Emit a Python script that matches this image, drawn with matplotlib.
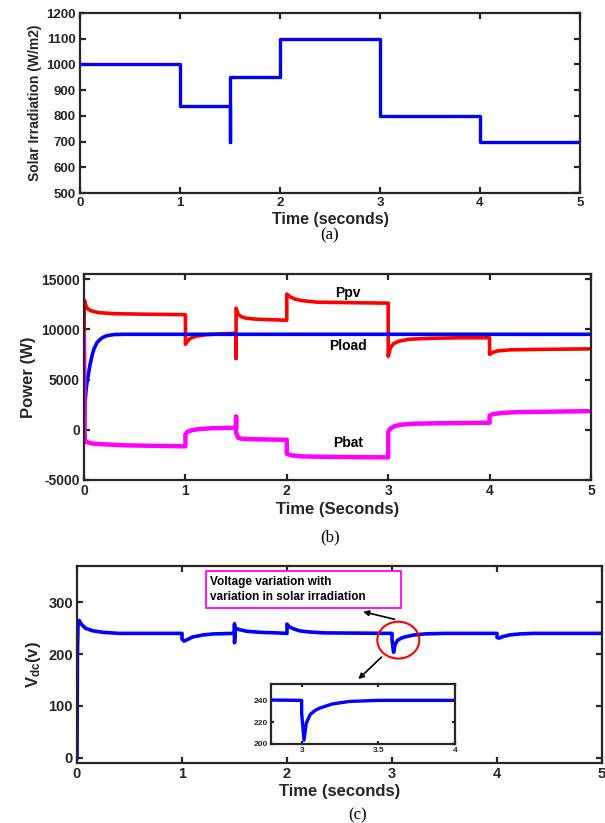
import matplotlib
matplotlib.use("Agg")
import matplotlib.pyplot as plt
from matplotlib.patches import Rectangle, Ellipse

plt.rcParams['font.family'] = ['Liberation Sans', 'DejaVu Sans']
plt.rcParams['font.weight'] = 'bold'
plt.rcParams['axes.unicode_minus'] = False
plt.rcParams['mathtext.fontset'] = 'custom'
plt.rcParams['mathtext.bf'] = 'Liberation Sans:bold'
plt.rcParams['mathtext.rm'] = 'Liberation Sans:bold'

BLUE = "#0000ff"
RED = "#ff0000"
MAGENTA = "#ff00ff"
SPINE = "#262626"

# ---------------------------------------------------------------------------
# (a) solar irradiation profile
# ---------------------------------------------------------------------------
irr_t = [0, 1, 1, 1.5, 1.5, 1.5, 2, 2, 3, 3, 4, 4, 5]
irr_g = [1000, 1000, 840, 840, 700, 950, 950, 1100, 1100, 800, 800, 700, 700]

# ---------------------------------------------------------------------------
# (b) power flows
# ---------------------------------------------------------------------------
ppv_t = [0, 0.004, 0.01, 0.02, 0.04, 0.08, 0.15, 0.3, 0.6, 1.0,
         1.0, 1.02, 1.05, 1.1, 1.2, 1.35, 1.5,
         1.5, 1.5, 1.52, 1.55, 1.6, 1.7, 1.85, 2.0,
         2.0, 2.03, 2.08, 2.15, 2.3, 2.6, 3.0,
         3.0, 3.02, 3.05, 3.1, 3.2, 3.4, 3.7, 4.0,
         4.0, 4.03, 4.08, 4.2, 4.5, 5.0]
ppv_p = [9000, 12900, 12700, 12300, 12000, 11800, 11650, 11550, 11500, 11450,
         8500, 8800, 9100, 9300, 9450, 9550, 9600,
         7100, 12100, 11500, 11250, 11100, 11000, 10950, 10900,
         13500, 13250, 13000, 12850, 12700, 12650, 12600,
         7300, 8100, 8550, 8800, 9000, 9100, 9150, 9150,
         7500, 7700, 7850, 7950, 8000, 8050]

pload_t = [0, 0.005, 0.01, 0.02, 0.03, 0.04, 0.06, 0.08, 0.1, 0.13, 0.17,
           0.22, 0.3, 0.4, 5.0]
pload_p = [0, 1500, 2600, 3900, 4700, 5300, 6500, 7400, 8100, 8700, 9100,
           9350, 9480, 9500, 9500]

pbat_t = [0, 0.008, 0.02, 0.05, 0.1, 0.2, 0.4, 0.7, 1.0,
          1.0, 1.02, 1.06, 1.12, 1.25, 1.5,
          1.5, 1.5, 1.52, 1.56, 1.7, 2.0,
          2.0, 2.05, 2.15, 2.4, 3.0,
          3.0, 3.02, 3.06, 3.12, 3.25, 3.5, 4.0,
          4.0, 4.03, 4.1, 4.25, 4.6, 5.0]
pbat_p = [9200, -1000, -1200, -1300, -1400, -1450, -1550, -1600, -1650,
          -500, -200, -50, 50, 150, 200,
          1300, -300, -800, -900, -950, -1000,
          -2400, -2550, -2650, -2700, -2750,
          -200, 100, 350, 500, 600, 650, 700,
          1400, 1550, 1650, 1750, 1800, 1850]

# ---------------------------------------------------------------------------
# (c) dc-link voltage
# ---------------------------------------------------------------------------
vdc_t = [0, 0.004, 0.01, 0.02, 0.04, 0.08, 0.15, 0.25, 0.4, 1.0,
         1.0, 1.02, 1.05, 1.1, 1.2, 1.3, 1.5,
         1.5, 1.5, 1.51, 1.55, 1.62, 1.75, 1.9, 2.0,
         2.0, 2.02, 2.06, 2.12, 2.2, 2.35, 3.0,
         3.0, 3.015, 3.03, 3.055, 3.09, 3.12, 3.2, 3.31, 3.5, 4.0,
         4.0, 4.02, 4.06, 4.12, 4.22, 4.35, 5.0]
vdc_v = [0, 200, 258, 265, 258, 250, 245, 242, 240, 240,
         229, 225, 228, 233, 237, 239, 240,
         258, 222, 250, 247, 244, 242, 241, 240,
         258, 253, 249, 245, 243, 241, 240,
         228, 203.5, 219, 227, 231, 233, 236.7, 239, 240, 240,
         232, 231, 234, 237, 239, 240, 240]

irr_ticks = [500, 600, 700, 800, 900, 1000, 1100, 1200]
pow_ticks = [-5000, 0, 5000, 10000, 15000]
vdc_ticks = [0, 100, 200, 300]
time_ticks = [0, 1, 2, 3, 4, 5]


def style_axes(ax, size=10):
    for s in ax.spines.values():
        s.set_color(SPINE)
        s.set_linewidth(1.6)
    ax.tick_params(direction='in', length=4, width=1.6, color=SPINE,
                   top=True, right=True, labelsize=size,
                   labelcolor=SPINE, pad=3)
    for lab in ax.get_xticklabels() + ax.get_yticklabels():
        lab.set_fontweight('bold')


fig = plt.figure(figsize=(6.05, 8.23), dpi=100)
W, H = 605.0, 823.0


def px_axes(left, top, right, bottom):
    return fig.add_axes([left / W, 1 - bottom / H, (right - left) / W, (bottom - top) / H])


# (a)
ax1 = px_axes(80, 13, 580, 193)
ax1.plot(irr_t, irr_g, color=BLUE, lw=2.4)
ax1.set_xlim(0, 5)
ax1.set_ylim(500, 1200)
ax1.set_xticks(time_ticks)
ax1.set_yticks(irr_ticks)
style_axes(ax1, 9.5)
ax1.set_xlabel('Time (seconds)', fontsize=11.5, fontweight='bold', color=SPINE, labelpad=2)
ax1.set_ylabel('Solar Irradiation (W/m2)', fontsize=10, fontweight='bold', color=SPINE, labelpad=3)
fig.text(330 / W, 1 - 235 / H, '(a)', ha='center', va='center',
         fontsize=12, family='Liberation Serif', fontweight='normal')

# (b)
ax2 = px_axes(84, 274, 591, 480)
ax2.plot(ppv_t, ppv_p, color=RED, lw=2.6)
ax2.plot(pload_t, pload_p, color=BLUE, lw=2.6)
ax2.plot(pbat_t, pbat_p, color=MAGENTA, lw=3.2)
ax2.set_xlim(0, 5)
ax2.set_ylim(-5000, 15500)
ax2.set_xticks(time_ticks)
ax2.set_yticks(pow_ticks)
style_axes(ax2, 10)
ax2.set_xlabel('Time (Seconds)', fontsize=12, fontweight='bold', color=SPINE, labelpad=3)
ax2.set_ylabel('Power (W)', fontsize=12, fontweight='bold', color=SPINE, labelpad=4)
ax2.text(2.6, 13600, 'Ppv', ha='center', va='center', fontsize=10, fontweight='bold')
ax2.text(2.6, 8350, 'Pload', ha='center', va='center', fontsize=10, fontweight='bold')
ax2.text(2.6, -1300, 'Pbat', ha='center', va='center', fontsize=10, fontweight='bold')
fig.text(330 / W, 1 - 537 / H, '(b)', ha='center', va='center',
         fontsize=12, family='Liberation Serif', fontweight='normal')

# (c)
ax3 = px_axes(77, 566, 602, 763)
ax3.plot(vdc_t, vdc_v, color=BLUE, lw=2.6)
ax3.set_xlim(0, 5)
ax3.set_ylim(-10, 370)
ax3.set_xticks(time_ticks)
ax3.set_yticks(vdc_ticks)
style_axes(ax3, 10.5)
ax3.set_xlabel('Time (seconds)', fontsize=12, fontweight='bold', color=SPINE, labelpad=2)
ax3.set_ylabel(r'$\mathbf{V_{dc}}$(v)', fontsize=12, fontweight='bold', color=SPINE, labelpad=4)

ax3.add_patch(Rectangle((0.246, 0.787), 0.371, 0.188, transform=ax3.transAxes,
                        facecolor='white', edgecolor=MAGENTA, lw=1.3, zorder=5))
ax3.text(0.254, 0.881, 'Voltage variation with\nvariation in solar irradiation',
         transform=ax3.transAxes, ha='left', va='center', fontsize=8.5,
         fontweight='bold', linespacing=1.25, zorder=6)
ax3.add_patch(Ellipse((3.06, 227), 0.40, 71, facecolor='none', edgecolor=RED, lw=1.5, zorder=4))
ax3.annotate('', xy=(2.70, 283), xytext=(3.05, 266),
             arrowprops=dict(arrowstyle='-|>', color='black', lw=1.2, mutation_scale=8))
ax3.annotate('', xy=(2.66, 148), xytext=(2.92, 198),
             arrowprops=dict(arrowstyle='-|>', color='black', lw=1.2, mutation_scale=8))
fig.text(358 / W, 1 - 815 / H, '(c)', ha='center', va='center',
         fontsize=12, family='Liberation Serif', fontweight='normal')

# inset zoom of the 3 s transient (window ends just before the 4 s step)
n_in = vdc_t.index(4.0) + 1
ax4 = px_axes(271, 684, 455, 744)
ax4.plot(vdc_t[:n_in], vdc_v[:n_in], color=BLUE, lw=2.4)
ax4.set_xlim(2.8, 4)
ax4.set_ylim(200, 255)
ax4.set_xticks([3, 3.5, 4])
ax4.set_xticklabels(['3', '3.5', '4'])
ax4.set_yticks([200, 220, 240])
style_axes(ax4, 6)
ax4.tick_params(length=2.5, pad=2)

fig.savefig('out.png', dpi=100)
